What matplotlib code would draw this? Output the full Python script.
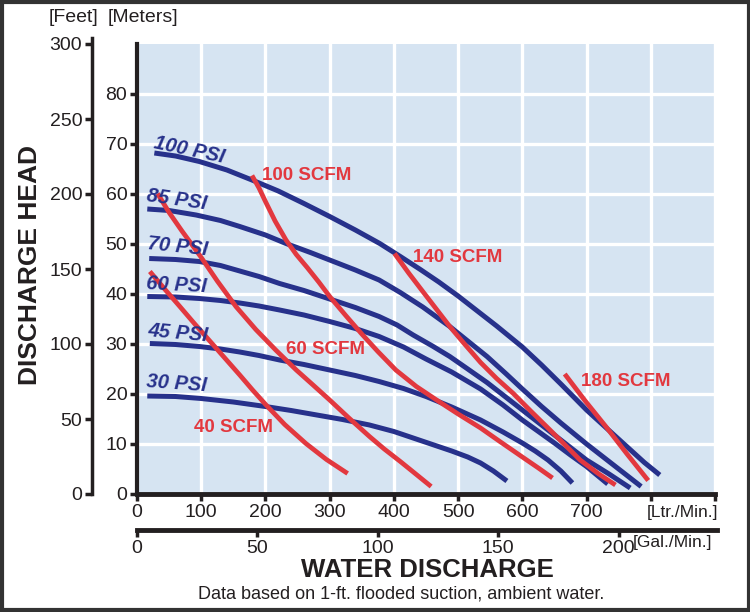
import matplotlib
matplotlib.use("Agg")
import matplotlib.pyplot as plt
from matplotlib.patches import Rectangle

plt.rcParams['font.family'] = ['Liberation Sans', 'DejaVu Sans']

# pump curves: flow in Ltr/Min, head in meters
psi_100_flow = [27, 60, 97, 140, 179, 220, 260, 300, 340, 378, 410, 440, 470, 500,
                530, 560, 600, 630, 660, 700, 730, 760, 790, 814]
psi_100_head = [68.2, 67.6, 66.5, 64.8, 62.8, 60.6, 58.1, 55.5, 52.8, 50.1, 47.5, 45,
                42.4, 39.6, 36.6, 33.6, 29.4, 25.8, 22, 16.8, 13.3, 9.8, 6.3, 3.8]
psi_85_flow = [16, 50, 92, 130, 160, 200, 232, 270, 300, 340, 377, 410, 445, 487,
               515, 545, 575, 600, 630, 660, 700, 745, 785]
psi_85_head = [57, 56.7, 55.8, 54.7, 53.5, 51.8, 50.1, 48.3, 46.8, 44.8, 42.8, 40.3,
               37.4, 33.5, 30.6, 27.5, 24, 21, 17.5, 14.2, 10, 5.5, 1.5]
psi_70_flow = [19, 60, 97, 130, 160, 190, 222, 260, 300, 340, 377, 405, 430, 460,
               487, 515, 545, 575, 600, 625, 650, 675, 700, 735, 768]
psi_70_head = [47.1, 46.9, 46.5, 45.7, 44.6, 43.5, 42.1, 40.7, 39, 37.3, 35.5, 33.8,
               31.8, 29.6, 27.5, 25, 22.3, 19.3, 16.8, 14.3, 11.8, 9.3, 6.8, 4, 1.2]
psi_60_flow = [16, 60, 97, 130, 160, 190, 222, 260, 300, 340, 377, 415, 450, 490,
               535, 570, 600, 625, 650, 675, 700, 733]
psi_60_head = [39.5, 39.4, 39.1, 38.7, 38.2, 37.6, 36.8, 35.8, 34.5, 33.1, 31.5, 29.4,
               27, 24.4, 21, 17.8, 14.8, 12.5, 10.2, 7.8, 5.5, 2]
psi_45_flow = [20, 60, 97, 130, 160, 190, 222, 260, 300, 340, 377, 415, 450, 490,
               535, 570, 600, 620, 640, 660, 678]
psi_45_head = [30.1, 29.9, 29.5, 29, 28.4, 27.7, 26.8, 25.9, 24.8, 23.7, 22.5, 21.1,
               19.5, 17.4, 14.8, 12.4, 10.2, 8.6, 6.8, 4.6, 2.2]
psi_30_flow = [16, 60, 100, 150, 200, 240, 280, 320, 362, 400, 430, 460, 490, 515,
               535, 555, 576]
psi_30_head = [19.6, 19.5, 19.1, 18.4, 17.5, 16.7, 15.8, 14.9, 13.8, 12.5, 11.2, 9.9,
               8.6, 7.4, 6.2, 4.6, 2.6]

# air consumption curves
scfm_40_flow = [20, 43, 66, 90, 112, 136, 160, 180, 201, 230, 263, 295, 328]
scfm_40_head = [44.5, 41, 37.6, 34, 30.8, 27.3, 23.8, 20.8, 17.8, 13.9, 10.1, 6.9, 4.1]
scfm_60_flow = [32, 50, 70, 99, 125, 154, 185, 216, 248, 275, 300, 330, 362, 385,
                410, 435, 458]
scfm_60_head = [60.1, 56.3, 52.6, 47.5, 42.6, 37.5, 32.9, 28.8, 24.8, 21.7, 18.8,
                15.2, 11.5, 9, 6.5, 3.9, 1.5]
scfm_100_flow = [179, 190, 200, 215, 232, 248, 265, 283, 300, 325, 350, 375, 403,
                 435, 470, 500, 535, 565, 600, 625, 647]
scfm_100_head = [63.7, 61.2, 58.5, 54.6, 50.8, 47.9, 45.3, 42.4, 39.5, 35.7, 32, 28.5,
                 24.8, 21.5, 18.5, 16, 13.2, 10.5, 7.4, 5.2, 3.2]
scfm_140_flow = [401, 423, 445, 466, 487, 510, 535, 560, 586, 613, 640, 665, 690,
                 718, 745]
scfm_140_head = [48.1, 44.2, 40.5, 37, 33.5, 30, 26.3, 23.1, 20.1, 16.6, 13.2, 10,
                 6.8, 4.1, 1.8]
scfm_180_flow = [666, 698, 730, 763, 796]
scfm_180_head = [24, 18.6, 13.5, 8, 2.7]

psi_curves = [(psi_100_flow, psi_100_head), (psi_85_flow, psi_85_head),
              (psi_70_flow, psi_70_head), (psi_60_flow, psi_60_head),
              (psi_45_flow, psi_45_head), (psi_30_flow, psi_30_head)]
scfm_curves = [(scfm_40_flow, scfm_40_head), (scfm_60_flow, scfm_60_head),
               (scfm_100_flow, scfm_100_head), (scfm_140_flow, scfm_140_head),
               (scfm_180_flow, scfm_180_head)]

psi_labels = ['100 PSI', '85 PSI', '70 PSI', '60 PSI', '45 PSI', '30 PSI']
scfm_labels = ['40 SCFM', '60 SCFM', '100 SCFM', '140 SCFM', '180 SCFM']

ltr_ticks = list(range(0, 901, 100))
ltr_ticklabels = [str(v) if v <= 700 else '' for v in ltr_ticks]
gal_ticks = [0, 50, 100, 150, 200]
meter_ticks = list(range(0, 81, 10))
feet_ticks = list(range(0, 301, 50))

BLUE = '#27318b'
RED = '#e2383f'
INK = '#231f20'
W, H = 750, 612


def fx(px):
    return px / W


def fy(py):
    return 1 - py / H


fig = plt.figure(figsize=(7.5, 6.12), dpi=100)

ax = fig.add_axes([fx(137), fy(494), (715 - 137) / W, (494 - 44) / H])
ax.set_xlim(0, 900)
ax.set_ylim(0, 90)
ax.set_facecolor('#d6e4f2')
ax.set_xticks(ltr_ticks)
ax.set_xticklabels(ltr_ticklabels)
ax.set_yticks(meter_ticks)
ax.grid(True, color='white', linewidth=2.4)
ax.set_axisbelow(True)
for s in ['top', 'right']:
    ax.spines[s].set_visible(False)
ax.spines['left'].set_linewidth(3)
ax.spines['bottom'].set_linewidth(3.5)
ax.spines['left'].set_color(INK)
ax.spines['bottom'].set_color(INK)
ax.tick_params(direction='out', length=5, width=2.5, labelsize=14,
               colors=INK, pad=2)

for flow, head in psi_curves:
    ax.plot(flow, head, color=BLUE, lw=3.6, solid_capstyle='butt',
            solid_joinstyle='round')
for flow, head in scfm_curves:
    ax.plot(flow, head, color=RED, lw=3.4, solid_capstyle='butt',
            solid_joinstyle='round')

psi_pos = [(81, 68.8, -12), (62, 58.8, -8), (64, 49.4, -6),
           (61, 41.8, -3), (64, 32.2, -5), (61, 22, -4)]
for txt, (x, y, r) in zip(psi_labels, psi_pos):
    ax.text(x, y, txt, color=BLUE, fontsize=14.5, fontweight='bold',
            style='italic', rotation=r, ha='center', va='center')

scfm_pos = [(151, 13.2), (293, 29), (264, 63.8), (499, 47.4), (761, 22.4)]
for txt, (x, y) in zip(scfm_labels, scfm_pos):
    ax.text(x, y, txt, color=RED, fontsize=13.5, fontweight='bold',
            ha='center', va='center')

# feet scale on the far left
fax = fig.add_axes([fx(92), fy(494), 0.01, (494 - 38) / H])
fax.set_ylim(0, 304)
fax.set_yticks(feet_ticks)
fax.set_xticks([])
fax.patch.set_visible(False)
for s in ['top', 'right', 'bottom']:
    fax.spines[s].set_visible(False)
fax.spines['left'].set_linewidth(2.5)
fax.spines['left'].set_color(INK)
fax.tick_params(direction='out', length=5, width=2.5, labelsize=14,
                colors=INK, pad=2)

# gallons scale under the litres scale
gax = fig.add_axes([fx(137), fy(530), (717 - 137) / W, 0.001])
gax.set_xlim(0, 900 / 3.75 * (717 - 137) / (715 - 137))
gax.set_xticks(gal_ticks)
gax.set_yticks([])
gax.patch.set_visible(False)
for s in ['top', 'right', 'left']:
    gax.spines[s].set_visible(False)
gax.spines['bottom'].set_linewidth(3.5)
gax.spines['bottom'].set_color(INK)
gax.tick_params(direction='out', length=5, width=2.5, labelsize=14,
                colors=INK, pad=2)

fig.text(fx(74), fy(18), '[Feet]', fontsize=14, color=INK, ha='center', va='center')
fig.text(fx(143), fy(18), '[Meters]', fontsize=14, color=INK, ha='center', va='center')
fig.text(fx(683), fy(513), '[Ltr./Min.]', fontsize=12.5, color=INK, ha='center', va='center')
fig.text(fx(673), fy(543), '[Gal./Min.]', fontsize=12.5, color=INK, ha='center', va='center')
fig.text(fx(30), fy(265), 'DISCHARGE HEAD', fontsize=19, fontweight='bold',
         color=INK, rotation=90, ha='center', va='center')
fig.text(fx(427), fy(570), 'WATER DISCHARGE', fontsize=18.5, fontweight='bold',
         color=INK, ha='center', va='center')
fig.text(fx(401), fy(594), 'Data based on 1-ft. flooded suction, ambient water.',
         fontsize=13, color=INK, ha='center', va='center')

fig.add_artist(Rectangle((0.002, 0.003), 0.996, 0.994, transform=fig.transFigure,
                         fill=False, lw=3, ec='#333333'))

fig.savefig('out.png', dpi=100)
